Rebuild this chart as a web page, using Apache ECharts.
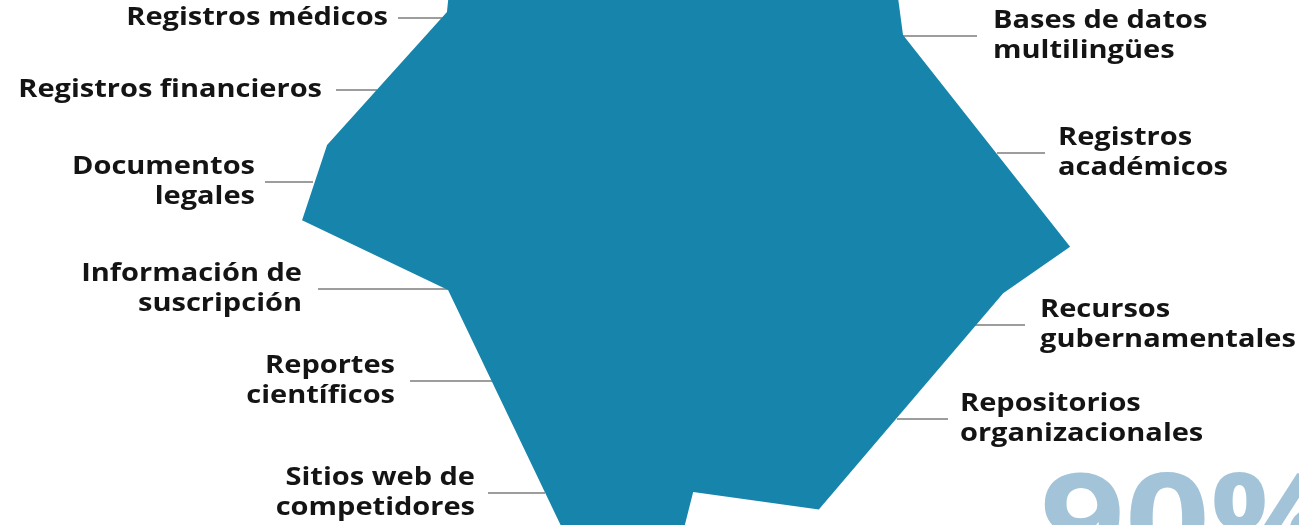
<!DOCTYPE html>
<html>
<head>
<meta charset="utf-8">
<script src="https://cdn.jsdelivr.net/npm/echarts@6/dist/echarts.min.js"></script>
<style>
  html, body { margin: 0; padding: 0; background: #ffffff; }
  #chart { width: 1299px; height: 525px; }
</style>
</head>
<body>
<div id="chart"></div>
<script>
// ---- data ----
// categories shown around the shape
var categories = [
  'Registros médicos',
  'Registros financieros',
  'Documentos\nlegales',
  'Información de\nsuscripción',
  'Reportes\ncientíficos',
  'Sitios web de\ncompetidores',
  'Repositorios\norganizacionales',
  'Recursos\ngubernamentales',
  'Registros\nacadémicos',
  'Bases de datos\nmultilingües'
];
// outline of the shape: angle (degrees, counter-clockwise from east) and reach (0-100)
var shapeAngle = [3.4, 46.5, 55.5, 126.3, 132.1, 160.5, 172.5, 184.9, 250.5, 269.2, 273.4, 300.1, 355.9];
var shapeReach = [97.7, 81.0, 94.0, 96.2, 86.9, 93.6, 95.3, 58.2, 76.9, 72.5, 55.6, 69.2, 81.0];
// headline figure
var headline = '90%';

// ---- layout (positions/styles only) ----
var labelLayout = [
  { side: 'left',  y: 18,  inner: 443, outer: 398, tx: 388 },
  { side: 'left',  y: 90,  inner: 377, outer: 336, tx: 322 },
  { side: 'left',  y: 182, inner: 313, outer: 265, tx: 255 },
  { side: 'left',  y: 289, inner: 452, outer: 318, tx: 302 },
  { side: 'left',  y: 381, inner: 492, outer: 410, tx: 395 },
  { side: 'left',  y: 493, inner: 545, outer: 488, tx: 475 },
  { side: 'right', y: 419, inner: 897, outer: 948, tx: 960 },
  { side: 'right', y: 325, inner: 975, outer: 1025, tx: 1040 },
  { side: 'right', y: 153, inner: 997, outer: 1045, tx: 1058 },
  { side: 'right', y: 36,  inner: 903, outer: 977, tx: 993 }
];
var textStretch = 1.16;

var chart = echarts.init(document.getElementById('chart'), null, { renderer: 'canvas' });

var graphics = [];
categories.forEach(function (name, i) {
  var L = labelLayout[i];
  graphics.push({
    type: 'line',
    silent: true,
    shape: { x1: L.inner, y1: L.y, x2: L.outer, y2: L.y },
    style: { stroke: '#7d7d7d', lineWidth: 1.4 }
  });
  graphics.push({
    type: 'text',
    silent: true,
    x: L.tx,
    y: L.y,
    scaleX: textStretch,
    style: {
      text: name,
      x: 0,
      y: 0,
      align: L.side === 'left' ? 'right' : 'left',
      verticalAlign: 'middle',
      font: 'bold 25px "Open Sans"',
      lineHeight: 30,
      fill: '#141414'
    }
  });
});
graphics.push({
  type: 'text',
  silent: true,
  x: 1040,
  y: 529,
  scaleX: textStretch,
  style: {
    text: headline,
    x: 0,
    y: 0,
    align: 'left',
    verticalAlign: 'middle',
    font: 'bold 128px "Open Sans"',
    fill: '#a3c4d8'
  }
});

chart.setOption({
  animation: false,
  polar: { center: [680, 270], radius: 400 },
  angleAxis: { type: 'value', min: 0, max: 360, startAngle: 0, clockwise: false, show: false },
  radiusAxis: { type: 'value', min: 0, max: 100, show: false },
  series: [{
    type: 'custom',
    coordinateSystem: 'polar',
    silent: true,
    clip: false,
    data: [[0, 0]],
    renderItem: function (params, api) {
      var pts = shapeAngle.map(function (a, k) {
        return api.coord([shapeReach[k], a]);
      });
      return {
        type: 'polygon',
        shape: { points: pts },
        style: { fill: '#1785ab', stroke: null }
      };
    }
  }],
  graphic: graphics
});
</script>
</body>
</html>
